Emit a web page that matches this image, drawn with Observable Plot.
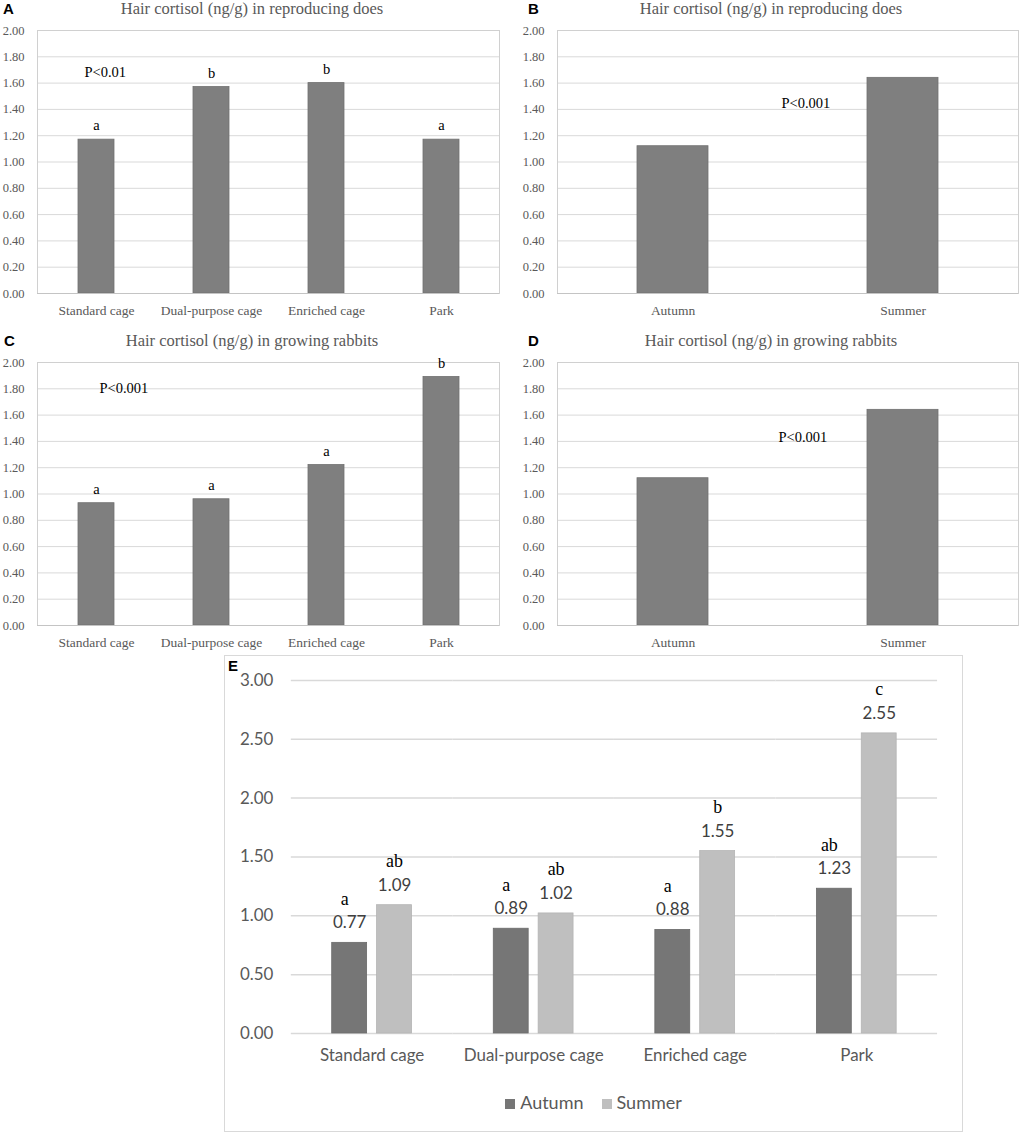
<!DOCTYPE html>
<html><head><meta charset="utf-8">
<script src="https://cdn.jsdelivr.net/npm/d3@7"></script>
<script src="https://cdn.jsdelivr.net/npm/@observablehq/plot@0.6"></script>
<style>
body{margin:0;background:#fff;}
#root{position:relative;width:1021px;height:1135px;overflow:hidden;background:#fff;}
.panel{position:absolute;}
.title{position:absolute;width:400px;text-align:center;white-space:nowrap;font-family:"Liberation Serif",serif;font-size:16.5px;line-height:17px;color:#595959;}
.tag{position:absolute;font-family:"Liberation Sans",Arial,sans-serif;font-weight:bold;font-size:15px;line-height:15px;color:#000;}
.small g[aria-label^="x-axis"] text{font-size:13.5px;}
#boxE{position:absolute;left:224px;top:655px;width:739px;height:477px;border:1px solid #d9d9d9;box-sizing:border-box;}
#legendE{position:absolute;left:0;right:0;top:436px;text-align:center;font-family:Lato,sans-serif;font-size:18px;color:#595959;line-height:20px;}
#legendE span.sw{display:inline-block;width:10px;height:10px;margin-right:5px;vertical-align:0px;}
#legendE span.item{margin:0 9px;}
</style></head><body>
<div id="root"></div>
<script>
// ---- data ----
const housing = ["Standard cage", "Dual-purpose cage", "Enriched cage", "Park"];
const seasons = ["Autumn", "Summer"];

const doesByHousing = [1.17, 1.57, 1.60, 1.17];
const doesHousingLetters = ["a", "b", "b", "a"];
const doesBySeason = [1.12, 1.64];

const growingByHousing = [0.93, 0.96, 1.22, 1.89];
const growingHousingLetters = ["a", "a", "a", "b"];
const growingBySeason = [1.12, 1.64];

const autumnValues = [0.77, 0.89, 0.88, 1.23];
const summerValues = [1.09, 1.02, 1.55, 2.55];
const autumnLetters = ["a", "a", "a", "ab"];
const summerLetters = ["ab", "ab", "b", "c"];

const smallTicks = [0, 0.2, 0.4, 0.6, 0.8, 1.0, 1.2, 1.4, 1.6, 1.8, 2.0];
const bigTicks = [0, 0.5, 1.0, 1.5, 2.0, 2.5, 3.0];

const titleDoes = "Hair cortisol (ng/g) in reproducing does";
const titleGrowing = "Hair cortisol (ng/g) in growing rabbits";

const root = document.getElementById("root");
const fmt = d3.format(".2f");

function addDiv(cls, text, left, top) {
  const d = document.createElement("div");
  d.className = cls;
  d.textContent = text;
  d.style.left = left + "px";
  d.style.top = top + "px";
  root.appendChild(d);
  return d;
}

function smallPanel({cats, values, letters, pText, pdx, pdy, width, marginLeft, marginRight, left, top}) {
  const data = cats.map((c, i) => ({cat: c, value: values[i], letter: letters ? letters[i] : ""}));
  const chart = Plot.plot({
    width, height: 325,
    marginLeft, marginRight, marginTop: 30, marginBottom: 32,
    style: {fontFamily: "'Liberation Serif', serif", fontSize: "12.5px", color: "#595959", background: "transparent", overflow: "visible"},
    x: {domain: cats, paddingInner: 0.69, paddingOuter: 0.345, tickSize: 0, tickPadding: 12, label: null},
    y: {domain: [0, 2], ticks: smallTicks, tickFormat: fmt, tickSize: 0, tickPadding: 13, label: null},
    marks: [
      Plot.ruleY(smallTicks, {stroke: "#d9d9d9", strokeWidth: 1}),
      Plot.frame({stroke: "#d0d0d0"}),
      Plot.barY(data, {x: "cat", y: "value", fill: "#7f7f7f", stroke: "#707070", strokeWidth: 0.8}),
      Plot.ruleY([0], {stroke: "#c4c4c4"}),
      letters ? Plot.text(data, {x: "cat", y: "value", text: "letter", dy: -14, fontSize: 14.5, fill: "#000"}) : null,
      Plot.text([pText], {frameAnchor: "top-left", dx: pdx, dy: pdy, text: d => d, fontSize: 14.5, fill: "#000"})
    ]
  });
  const wrap = document.createElement("div");
  wrap.className = "panel small";
  wrap.style.left = left + "px";
  wrap.style.top = top + "px";
  wrap.appendChild(chart);
  root.appendChild(wrap);
}

// Panel A
smallPanel({cats: housing, values: doesByHousing, letters: doesHousingLetters, pText: "P<0.01", pdx: 47, pdy: 36,
  width: 505, marginLeft: 37, marginRight: 6, left: 0, top: 0});
// Panel B
smallPanel({cats: seasons, values: doesBySeason, letters: null, pText: "P<0.001", pdx: 224, pdy: 67,
  width: 521, marginLeft: 57, marginRight: 3, left: 500, top: 0});
// Panel C
smallPanel({cats: housing, values: growingByHousing, letters: growingHousingLetters, pText: "P<0.001", pdx: 62, pdy: 20,
  width: 505, marginLeft: 37, marginRight: 6, left: 0, top: 332});
// Panel D
smallPanel({cats: seasons, values: growingBySeason, letters: null, pText: "P<0.001", pdx: 221, pdy: 69,
  width: 521, marginLeft: 57, marginRight: 3, left: 500, top: 332});

addDiv("title", titleDoes, 252 - 200, 0);
addDiv("title", titleDoes, 771 - 200, 0);
addDiv("title", titleGrowing, 252 - 200, 332);
addDiv("title", titleGrowing, 771 - 200, 332);
addDiv("tag", "A", 3, 1);
addDiv("tag", "B", 528, 1);
addDiv("tag", "C", 4, 333);
addDiv("tag", "D", 528, 333);

// Panel E
const boxE = document.createElement("div");
boxE.id = "boxE";
root.appendChild(boxE);

const eData = [];
housing.forEach((h, i) => {
  eData.push({cage: h, season: "Autumn", value: autumnValues[i], letter: autumnLetters[i]});
  eData.push({cage: h, season: "Summer", value: summerValues[i], letter: summerLetters[i]});
});

const chartE = Plot.plot({
  width: 739, height: 425,
  marginLeft: 65, marginRight: 24, marginTop: 24, marginBottom: 47,
  style: {fontFamily: "Lato, sans-serif", fontSize: "17px", color: "#595959", background: "transparent", overflow: "visible"},
  fx: {domain: housing, padding: 0, tickSize: 0, tickPadding: 16, label: null, axis: "bottom"},
  x: {domain: seasons, paddingInner: 0.217, paddingOuter: 0.875, axis: null},
  y: {domain: [0, 3], ticks: bigTicks, tickFormat: fmt, tickSize: 0, tickPadding: 18, label: null},
  color: {domain: seasons, range: ["#767676", "#bfbfbf"]},
  marks: [
    Plot.ruleY(bigTicks, {stroke: "#d9d9d9", strokeWidth: 1.5}),
    Plot.barY(eData, {fx: "cage", x: "season", y: "value", fill: "season", stroke: d => d.season === "Autumn" ? "#6a6a6a" : "#b4b4b4", strokeWidth: 0.8}),
    Plot.text(eData, {fx: "cage", x: "season", y: "value", text: d => fmt(d.value), dy: -20, fontSize: 17, fill: "#404040"}),
    Plot.text(eData.filter(d => d.season === "Autumn"), {fx: "cage", x: "season", y: "value", text: "letter", dy: -44, dx: -5, fontSize: 18, fontFamily: "'Liberation Serif', serif", fill: "#000"}),
    Plot.text(eData.filter(d => d.season === "Summer"), {fx: "cage", x: "season", y: "value", text: "letter", dy: -44, fontSize: 18, fontFamily: "'Liberation Serif', serif", fill: "#000"})
  ]
});
const wrapE = document.createElement("div");
wrapE.className = "panel";
wrapE.style.left = "0px";
wrapE.style.top = "0px";
wrapE.appendChild(chartE);
boxE.appendChild(wrapE);

const legend = document.createElement("div");
legend.id = "legendE";
legend.innerHTML = seasons.map((s, i) =>
  `<span class="item"><span class="sw" style="background:${["#767676", "#bfbfbf"][i]}"></span>${s}</span>`).join("");
boxE.appendChild(legend);
addDiv("tag", "E", 228, 658);
</script>
</body></html>
